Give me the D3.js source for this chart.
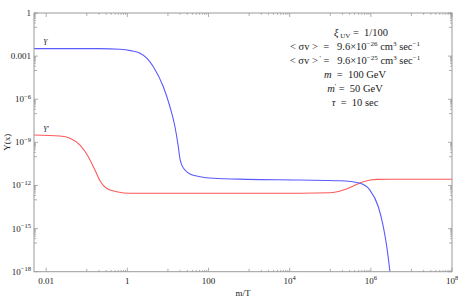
<!DOCTYPE html>
<html>
<head>
<meta charset="utf-8">
<script src="https://cdn.jsdelivr.net/npm/d3@7"></script>
<style>
  body { margin: 0; background: #fff; }
  text { font-family: "Liberation Serif", "DejaVu Serif", serif; fill: #222; white-space: pre; }
</style>
</head>
<body>
<svg id="chart" width="458" height="299"></svg>
<script>
// Y (blue)
const yMT = [0.005, 0.2, 0.66, 1.2, 2.05, 3.05, 4.36, 7.7, 11.2, 14.9, 18, 19.8, 21.6, 27.0, 34.9, 61.6, 131, 873, 1.8e4, 1.74e5, 5.4e5, 9.5e5, 1.53e6, 2.03e6, 2.54e6, 2.96e6, 3.3e6];
const yVal = [3.3e-3, 3.3e-3, 3.0e-3, 2.4e-3, 1.57e-3, 7e-4, 1.83e-4, 7.4e-6, 3.0e-7, 1.22e-8, 5e-10, 7e-11, 2.9e-11, 1.1e-11, 6.25e-12, 4.06e-12, 3.14e-12, 2.67e-12, 2.39e-12, 2.14e-12, 1.41e-12, 4.8e-13, 3.3e-14, 1.35e-15, 3.2e-17, 1e-18, 5e-20];

// Y' (red)
const ypMT = [0.005, 0.0219, 0.0386, 0.068, 0.109, 0.159, 0.211, 0.31, 0.546, 1.16, 19.8, 1.8e4, 9.8e4, 2.1e5, 3.69e5, 6.5e5, 1.39e6, 3e6, 1e8];
const ypVal = [3.24e-9, 2.76e-9, 1.9e-9, 6.5e-10, 1.0e-10, 1.19e-11, 2.1e-12, 6.2e-13, 3.67e-13, 2.84e-13, 2.84e-13, 2.9e-13, 3.1e-13, 4.8e-13, 9.1e-13, 1.82e-12, 2.67e-12, 2.7e-12, 2.7e-12];

const xTicks = [0.01, 1, 100, 1e4, 1e6, 1e8];
const xTickLabels = [["0.01"], ["1"], ["100"], ["10", "4"], ["10", "6"], ["10", "8"]];
const yTicks = [1, 1e-3, 1e-6, 1e-9, 1e-12, 1e-15, 1e-18];
const yTickLabels = [["1"], ["0.001"], ["10", "\u22126"], ["10", "\u22129"], ["10", "\u221212"], ["10", "\u221215"], ["10", "\u221218"]];

// parameter box, one entry per line: [text, style] where style is "", "i", "sup" or "sub"
const paramLines = [
  [["\u03be", "i"], [" UV", "sub"], [" =  1/100", ""]],
  [["< \u03c3v >  =   9.6\u00d710", ""], ["\u221226", "sup"], [" cm", ""], ["3", "sup"], [" sec", ""], ["\u22121", "sup"]],
  [["< \u03c3v >", ""], [" '", "sup"], [" =   9.6\u00d710", ""], ["\u221225", "sup"], [" cm", ""], ["3", "sup"], [" sec", ""], ["\u22121", "sup"]],
  [["m", "i"], ["  =  100 GeV", ""]],
  [["m", "i"], ["'", "sup"], [" =  50 GeV", ""]],
  [["\u03c4", "i"], ["  =  10 sec", ""]]
];

const margin = { top: 13, right: 6, bottom: 27.3, left: 34 };
const width = 458, height = 299;
const plotW = width - margin.left - margin.right;
const plotH = height - margin.top - margin.bottom;

const svg = d3.select("#chart");
const chart = svg.append("g").attr("transform", `translate(${margin.left},${margin.top})`);

const x = d3.scaleLog().domain([0.005, 1e8]).range([0, plotW]);
const y = d3.scaleLog().domain([1e-18, 1]).range([plotH, 0]);

chart.append("defs").append("clipPath").attr("id", "plot-clip")
  .append("rect").attr("width", plotW).attr("height", plotH);

const line = d3.line()
  .x((d) => x(d[0]))
  .y((d) => y(d[1]))
  .curve(d3.curveMonotoneX);

const curves = chart.append("g").attr("clip-path", "url(#plot-clip)");
curves.append("path")
  .datum(ypMT.map((m, i) => [m, ypVal[i]]))
  .attr("fill", "none").attr("stroke", "#ff5a5a").attr("stroke-width", 1.1)
  .attr("d", line);
curves.append("path")
  .datum(yMT.map((m, i) => [m, yVal[i]]))
  .attr("fill", "none").attr("stroke", "#5a5aff").attr("stroke-width", 1.1)
  .attr("d", line);

// frame
const tickColor = "#9a9a9a";
chart.append("rect")
  .attr("width", plotW).attr("height", plotH)
  .attr("fill", "none").attr("stroke", tickColor).attr("stroke-width", 1);

const ticks = chart.append("g").attr("stroke", tickColor).attr("stroke-width", 0.8);

const xTickSet = [];
xTicks.forEach((m) => {
  xTickSet.push([m, 4]);
  if (m > 0.01) {
    xTickSet.push([m / 10, 3]);
    for (let j = 2; j <= 9; j++) xTickSet.push([j * m / 10, 1.8]);
  }
});
xTickSet.forEach(([v, len]) => {
  const px = x(v);
  ticks.append("line").attr("x1", px).attr("x2", px).attr("y1", plotH).attr("y2", plotH - len);
  ticks.append("line").attr("x1", px).attr("x2", px).attr("y1", 0).attr("y2", len);
});

const yTickSet = [];
yTicks.forEach((m) => {
  yTickSet.push([m, 4]);
  if (m > 1e-18) {
    yTickSet.push([m / 10, 3]);
    for (let j = 2; j <= 9; j++) yTickSet.push([j * m / 10, 1.8]);
  }
});
yTickSet.forEach(([v, len]) => {
  const py = y(v);
  ticks.append("line").attr("y1", py).attr("y2", py).attr("x1", 0).attr("x2", len);
  ticks.append("line").attr("y1", py).attr("y2", py).attr("x1", plotW).attr("x2", plotW - len);
});

const appendPower = (sel, parts) => {
  sel.append("tspan").text(parts[0]);
  if (parts[1]) {
    sel.append("tspan").attr("dy", -3.5).attr("font-size", 6.5).text(parts[1]);
  }
};

xTicks.forEach((v, i) => {
  const t = chart.append("text")
    .attr("x", x(v)).attr("y", plotH + 12)
    .attr("text-anchor", "middle").attr("font-size", 9);
  appendPower(t, xTickLabels[i]);
});
yTicks.forEach((v, i) => {
  const t = chart.append("text")
    .attr("x", -3).attr("y", y(v) + 3)
    .attr("text-anchor", "end").attr("font-size", 9);
  appendPower(t, yTickLabels[i]);
});

// axis titles
chart.append("text")
  .attr("x", plotW / 2).attr("y", plotH + 24.5)
  .attr("text-anchor", "middle").attr("font-size", 9)
  .text("m/T");
chart.append("text")
  .attr("transform", `translate(-24,${plotH / 2}) rotate(-90)`)
  .attr("text-anchor", "middle").attr("font-size", 9)
  .text("Y(x)");

// curve labels
chart.append("text").attr("x", x(0.0085)).attr("y", y(3.3e-3) - 3.5)
  .attr("font-size", 7.5).attr("font-style", "italic").text("Y");
const ypLab = chart.append("text").attr("x", x(0.0085)).attr("y", y(3.24e-9) - 3.5)
  .attr("font-size", 7.5).attr("font-style", "italic");
ypLab.append("tspan").text("Y");
ypLab.append("tspan").attr("font-style", "normal").text("\u2032");

// parameter box
const box = chart.append("g").attr("transform", `translate(${355 - margin.left},0)`);
paramLines.forEach((parts, i) => {
  const t = box.append("text")
    .attr("x", i === 0 ? 6 : 0).attr("y", 22.5 + i * 14)
    .attr("text-anchor", "middle").attr("font-size", 10.5);
  let shift = 0;
  parts.forEach(([str, style]) => {
    const ts = t.append("tspan").text(str);
    let target = 0;
    if (style === "sup") target = -4;
    if (style === "sub") target = 2.5;
    if (target !== shift) ts.attr("dy", target - shift);
    shift = target;
    if (style === "sup" || style === "sub") ts.attr("font-size", 7);
    if (style === "i") ts.attr("font-style", "italic");
  });
});
</script>
</body>
</html>
